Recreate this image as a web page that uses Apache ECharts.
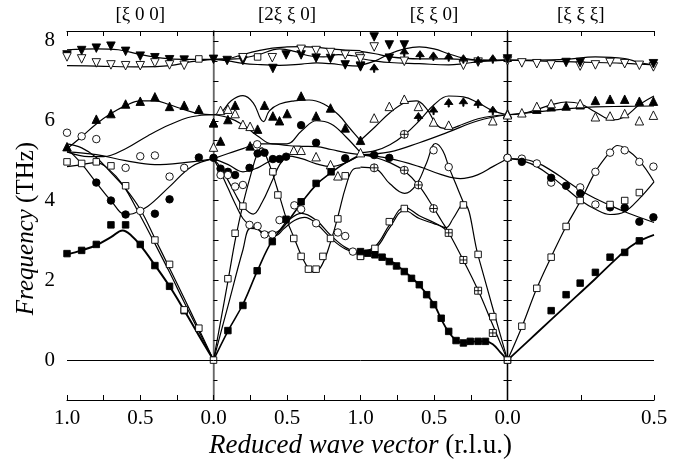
<!DOCTYPE html>
<html>
<head>
<meta charset="utf-8">
<script src="https://cdn.jsdelivr.net/npm/echarts@6/dist/echarts.min.js"></script>
<style>html,body{margin:0;padding:0;background:#fff}#c{width:682px;height:463px}</style>
</head>
<body>
<div id="c"></div>
<script>
// ---------- panel titles & tick text ----------
const panelTitles = ['[\u03BE 0 0]', '[2\u03BE \u03BE 0]', '[\u03BE \u03BE 0]', '[\u03BE \u03BE \u03BE]'];
const yTickLabels = [0, 2, 4, 6, 8];

// ---------- Panel 1 [xi 0 0]  (x = xi, 1 -> 0) ----------
const p1Curves = [
  [[1,7.78],[0.8,7.8],[0.65,7.78],[0.5,7.66],[0.35,7.57],[0.2,7.54],[0,7.54]],
  [[1,7.38],[0.8,7.37],[0.5,7.35],[0.3,7.38],[0.15,7.48],[0,7.54]],
  [[1,5.3],[0.9,5.6],[0.8,5.92],[0.7,6.18],[0.6,6.38],[0.5,6.5],[0.4,6.5],[0.3,6.4],[0.2,6.28],[0.1,6.18],[0,6.15]],
  [[1,5.22],[0.85,5.1],[0.75,5.1],[0.6,5.3],[0.45,5.62],[0.3,5.9],[0.15,6.1],[0,6.15]],
  [[1,5.22],[0.8,5.15],[0.6,5.0],[0.4,4.9],[0.2,4.95],[0,5.05]],
  [[1,5.3],[0.9,4.92],[0.8,4.45],[0.7,4.0],[0.6,3.65],[0.55,3.67],[0.45,3.85],[0.3,4.35],[0.15,4.85],[0,5.05]],
  [[1,5.42],[0.9,5.32],[0.8,5.08],[0.7,4.7],[0.6,4.3],[0.5,3.78],[0.4,3.05],[0.3,2.3],[0.2,1.55],[0.1,0.78],[0,0]],
  [[1,4.85],[0.9,4.9],[0.8,4.95],[0.72,4.8],[0.62,4.4],[0.5,3.62],[0.4,2.92],[0.3,2.2],[0.2,1.45],[0.1,0.72],[0,0]]
];
const p1Thick = [[1,2.65],[0.9,2.75],[0.8,2.88],[0.7,3.08],[0.62,3.25],[0.56,3.12],[0.5,2.88],[0.4,2.38],[0.3,1.85],[0.2,1.25],[0.1,0.62],[0,0]];
const p1FilledSq = [[1,2.67],[0.9,2.75],[0.8,2.9],[0.7,3.39],[0.6,3.39],[0.5,2.9],[0.4,2.37],[0.3,1.85],[0.2,1.24]];
const p1OpenSq = [[1,4.97],[0.9,4.93],[0.8,4.97],[0.7,4.87],[0.6,4.37],[0.4,3.01],[0.3,2.4],[0.2,1.26],[0.1,0.8],[0,0],[0.1,7.55]];
const p1OpenCirc = [[1,5.7],[0.9,5.61],[0.8,5.54],[0.6,4.82],[0.5,5.11],[0.4,5.13],[0.3,4.6],[0.2,4.82],[0.5,3.74]];
const p1FilledCirc = [[0.8,4.45],[0.7,4.0],[0.6,3.65],[0.4,3.67],[0.3,4.03],[0.1,5.08],[0,5.07]];
const p1FilledUp = [[1,5.35],[0.8,6.04],[0.7,6.18],[0.6,6.42],[0.5,6.49],[0.4,6.6],[0.3,6.36],[0.2,6.39],[0.1,6.29],[0,5.95]];
const p1FilledDown = [[1,7.65],[0.9,7.76],[0.8,7.82],[0.7,7.87],[0.6,7.74],[0.5,7.62],[0.4,7.58],[0.3,7.53],[0.2,7.52],[0,7.54]];
const p1OpenDown = [[1,7.6],[0.9,7.55],[0.8,7.45],[0.7,7.4],[0.6,7.38],[0.5,7.38],[0.4,7.45],[0.3,7.4],[0.2,7.39]];

// ---------- Panel 2 [2xi xi 0]  (x = xi, 0 -> 1) ----------
const p2Curves = [
  [[0,7.54],[0.1,7.56],[0.2,7.66],[0.3,7.75],[0.4,7.82],[0.5,7.85],[0.6,7.86],[0.7,7.84],[0.8,7.8],[0.9,7.77],[1,7.76]],
  [[0,7.54],[0.15,7.55],[0.3,7.65],[0.45,7.8],[0.55,7.74],[0.65,7.63],[0.75,7.6],[0.85,7.66],[0.95,7.63],[1,7.6]],
  [[0,7.54],[0.1,7.5],[0.2,7.44],[0.3,7.41],[0.45,7.39],[0.6,7.42],[0.7,7.45],[0.8,7.43],[0.9,7.39],[1,7.37]],
  [[0,6.15],[0.05,6.2],[0.12,6.5],[0.2,6.63],[0.27,6.45],[0.32,6.05],[0.34,5.98],[0.38,6.25],[0.45,6.42],[0.55,6.5],[0.65,6.52],[0.75,6.42],[0.85,6.15],[0.93,5.8],[1,5.5]],
  [[0,6.15],[0.1,6.08],[0.2,5.9],[0.3,5.62],[0.4,5.42],[0.5,5.42],[0.6,5.75],[0.7,6.0],[0.8,5.92],[0.9,5.6],[1,5.2]],
  [[0,5.05],[0.1,5.18],[0.2,5.3],[0.3,5.42],[0.4,5.42],[0.5,5.38],[0.6,5.36],[0.7,5.35],[0.8,5.28],[0.9,5.2],[1,5.15]],
  [[0,5.05],[0.1,4.9],[0.2,4.72],[0.3,4.82],[0.4,5.02],[0.5,5.12],[0.6,5.05],[0.7,4.92],[0.8,4.85],[0.9,4.95],[1,5.15]],
  [[0,5.05],[0.05,4.82],[0.1,4.5],[0.15,4.15],[0.2,3.85],[0.27,3.66],[0.33,3.95],[0.4,4.5],[0.45,4.9],[0.5,5.1]],
  [[0,5.05],[0.05,4.7],[0.1,4.3],[0.15,3.9],[0.2,3.55],[0.25,3.38],[0.3,3.28],[0.35,3.2],[0.42,3.2],[0.5,3.48],[0.6,3.68],[0.7,3.5],[0.8,3.12],[0.9,2.82],[1,2.68]],
  [[0,0],[0.1,1.38],[0.2,2.76],[0.25,3.3],[0.3,3.28],[0.35,3.12],[0.42,3.12],[0.48,3.3],[0.55,3.5],[0.62,3.58],[0.7,3.42],[0.8,3.05],[0.9,2.78],[1,2.68]],
  [[0,0],[0.05,1.0],[0.1,2.02],[0.15,3.05],[0.2,3.9],[0.25,4.6],[0.3,5.2],[0.33,5.32],[0.36,5.1],[0.4,4.7],[0.45,4.1],[0.5,3.5],[0.55,3.05],[0.6,2.6],[0.65,2.28],[0.69,2.2],[0.74,2.4],[0.8,3.0],[0.85,3.65],[0.9,4.35],[0.95,4.78],[1,4.82]]
];
const p2Thick = [[0,0],[0.1,0.74],[0.2,1.4],[0.3,2.25],[0.4,3.0],[0.5,3.45],[0.6,3.95],[0.7,4.4],[0.8,4.7],[0.9,4.95],[1,5.15]];
const p2FilledUp = [[0,5.95],[0.048,5.49],[0.098,6.03],[0.147,6.39],[0.249,5.37],[0.3,5.79],[0.347,6.39],[0.404,6.12],[0.449,6.0],[0.501,6.18],[0.596,6.62],[0.698,6.12],[0.796,6.32],[0.896,5.82],[1,5.51]];
const p2OpenUp = [[0,5.34],[0.048,6.26],[0.098,6.29],[0.147,6.18],[0.2,5.91],[0.249,5.86],[0.546,5.26],[0.596,5.26],[0.698,5.1],[0.796,4.9],[0.846,4.62]];
const p2FilledCirc = [[0.048,4.8],[0.098,4.72],[0.147,4.64],[0.245,4.82],[0.3,5.18],[0.347,5.2],[0.404,5.04],[0.449,5.04],[0.494,5.1],[0.596,5.89],[0.698,5.45],[0.896,5.06]];
const p2OpenCirc = [[0.048,4.64],[0.098,4.64],[0.147,4.35],[0.2,4.39],[0.297,5.41],[0.55,3.88],[0.596,3.78],[0.449,3.51],[0.245,3.39],[0.3,3.36],[0.347,3.15],[0.4,3.15],[0.698,3.43],[0.846,3.2],[0.896,3.11],[0.948,2.72],[1,2.68]];
const p2OpenSq = [[0.404,4.72],[0.438,4.14],[0.846,3.54],[0.896,4.62],[0.098,2.04],[0.147,3.18],[0.2,3.86],[0.546,3.05],[0.596,2.6],[0.646,2.28],[0.698,2.28],[0.744,2.6],[0.796,3.05],[1,2.61],[0.3,7.6]];
const p2FilledSq = [[0.098,0.74],[0.2,1.37],[0.297,2.24],[0.4,2.97],[0.494,3.53],[0.596,3.97],[0.698,4.43],[0.8,4.72]];
const p2FilledDown = [[0.093,7.51],[0.2,7.51],[0.404,7.31],[0.494,7.65],[0.596,7.65],[0.698,7.57],[0.796,7.56],[0.896,7.4],[1,7.37]];
const p2OpenDown = [[0.2,7.58],[0.4,7.58],[0.596,7.79],[0.698,7.76],[0.796,7.71],[0.896,7.65],[0.993,7.6]];

// ---------- Panel 3 [xi xi 0]  (x = xi, 1 -> 0) ----------
const p3Curves = [
  [[1,7.39],[0.9,7.5],[0.8,7.68],[0.7,7.8],[0.6,7.85],[0.5,7.8],[0.4,7.68],[0.3,7.57],[0.2,7.52],[0.1,7.51],[0,7.52]],
  [[1,7.74],[0.9,7.68],[0.8,7.6],[0.6,7.55],[0.4,7.55],[0.2,7.52],[0,7.52]],
  [[1,7.56],[0.9,7.5],[0.8,7.46],[0.6,7.43],[0.4,7.4],[0.3,7.43],[0.2,7.48],[0.1,7.5],[0,7.52]],
  [[1,5.51],[0.9,5.85],[0.8,6.2],[0.7,6.45],[0.62,6.5],[0.55,6.3],[0.5,6.0],[0.45,5.82],[0.4,5.8],[0.3,5.92],[0.2,6.05],[0.1,6.12],[0,6.15]],
  [[1,5.2],[0.9,5.25],[0.8,5.4],[0.7,5.65],[0.6,6.0],[0.5,6.4],[0.4,6.62],[0.3,6.6],[0.2,6.45],[0.1,6.25],[0,6.15]],
  [[1,5.15],[0.8,5.22],[0.6,5.45],[0.4,5.72],[0.2,6.0],[0,6.15]],
  [[1,5.15],[0.8,5.05],[0.6,4.85],[0.45,4.65],[0.32,4.55],[0.2,4.65],[0.1,4.85],[0,5.05]],
  [[1,4.84],[0.9,4.8],[0.8,4.42],[0.7,4.18],[0.62,4.4],[0.55,4.95],[0.49,5.43],[0.44,5.25],[0.4,4.85],[0.35,4.4],[0.3,3.95]],
  [[1,5.15],[0.9,5.08],[0.8,4.95],[0.7,4.74],[0.6,4.36],[0.5,3.8],[0.45,3.5],[0.4,3.2],[0.3,2.5],[0.2,1.75],[0.1,0.88],[0,0]],
  [[1,2.72],[0.9,2.85],[0.8,3.4],[0.7,3.83],[0.6,3.62],[0.5,3.45],[0.42,3.32],[0.37,3.55],[0.3,3.93],[0.2,2.62],[0.1,1.3],[0,0]],
  [[1,2.72],[0.9,2.8],[0.8,3.33],[0.7,3.75],[0.6,3.55],[0.5,3.42],[0.45,3.35],[0.4,3.2]]
];
const p3Thick = [[1,2.72],[0.9,2.66],[0.8,2.5],[0.7,2.22],[0.6,1.88],[0.5,1.4],[0.45,1.02],[0.4,0.7],[0.35,0.5],[0.3,0.44],[0.25,0.46],[0.2,0.47],[0.15,0.47],[0.1,0.4],[0.05,0.2],[0,0]];
const p3FilledDown = [[0.907,8.1],[0.804,7.9],[0.702,7.9],[1,7.35],[0.804,7.57]];
const p3OpenDown = [[0.907,7.85],[1,7.55],[0.702,7.49],[0.3,7.39],[0.2,7.47],[0,7.5]];
const p3Club = [[0.907,7.32],[0.702,7.72],[0.595,7.65],[0.504,7.62],[0.4,7.6],[0.3,7.55],[0.2,7.51],[0.1,7.55],[0.606,6.1],[0.503,6.26],[0.4,6.45],[0.3,6.47],[0.2,6.43],[0.1,6.26]];
const p3CrossCirc = [[0.702,5.66],[0.907,4.82],[0.702,4.76],[0.606,4.39],[0.503,3.8]];
const p3OpenUp = [[0.907,6.07],[0.804,6.36],[0.702,6.54],[0.606,6.36],[0.503,5.97],[0.4,5.89],[0.1,6.0],[0,6.18],[1,5.2]];
const p3OpenCirc = [[0.503,5.26],[0.4,4.84],[0,5.07]];
const p3FilledCirc = [[0.907,5.14],[0.804,5.07]];
const p3OpenSq = [[0.702,3.8],[0.3,3.89],[0.902,2.8],[0.804,3.47],[0.2,2.65],[0.1,1.09],[1,2.6],[0,0]];
const p3CrossSq = [[0.4,3.19],[0.3,2.51],[0.2,1.74],[0.1,0.68]];
const p3FilledSq = [[1,2.72],[0.951,2.68],[0.902,2.64],[0.853,2.58],[0.804,2.47],[0.755,2.36],[0.702,2.22],[0.653,2.05],[0.6,1.89],[0.55,1.64],[0.503,1.39],[0.451,1.05],[0.4,0.72],[0.35,0.49],[0.3,0.43],[0.253,0.47],[0.2,0.47],[0.15,0.47]];

// ---------- Panel 4 [xi xi xi]  (x = xi, 0 -> 0.5) ----------
const p4Curves = [
  [[0,7.52],[0.1,7.52],[0.2,7.54],[0.3,7.6],[0.4,7.56],[0.45,7.46],[0.5,7.4]],
  [[0,7.52],[0.1,7.5],[0.2,7.48],[0.3,7.46],[0.4,7.44],[0.5,7.4]],
  [[0,6.15],[0.05,6.18],[0.1,6.28],[0.15,6.4],[0.2,6.47],[0.25,6.42],[0.3,6.22],[0.36,6.02],[0.4,6.1],[0.45,6.4],[0.5,6.62]],
  [[0,6.15],[0.1,6.22],[0.2,6.3],[0.3,6.35],[0.4,6.36],[0.5,6.37]],
  [[0,5.05],[0.05,5.04],[0.1,4.95],[0.15,4.75],[0.2,4.5],[0.25,4.25],[0.3,4.05],[0.35,3.88],[0.4,3.72],[0.45,3.58],[0.5,3.45]],
  [[0,5.05],[0.05,5.0],[0.1,4.85],[0.15,4.6],[0.2,4.3],[0.25,4.0],[0.3,3.78],[0.35,3.65],[0.4,3.72],[0.45,4.05],[0.5,4.47]],
  [[0,0],[0.05,0.85],[0.1,1.8],[0.15,2.6],[0.2,3.35],[0.25,4.0],[0.3,4.72],[0.35,5.22],[0.375,5.38],[0.4,5.32],[0.45,5.0],[0.5,4.47]]
];
const p4Thick = [[0,0],[0.1,0.68],[0.2,1.36],[0.3,2.04],[0.38,2.6],[0.42,2.85],[0.46,3.02],[0.5,3.14]];
const p4OpenDown = [[0.049,7.45],[0.1,7.43],[0.149,7.4],[0.248,7.37],[0.3,7.4],[0.35,7.46],[0.4,7.43],[0.45,7.39],[0.498,7.35]];
const p4FilledDown = [[0,7.55],[0.2,7.46],[0.248,7.46],[0.498,7.43]];
const p4FilledUp = [[0.1,6.29],[0.149,6.35],[0.2,6.37],[0.248,6.4],[0.3,6.51],[0.35,6.54],[0.4,6.54],[0.45,6.49],[0.498,6.49]];
const p4OpenUp = [[0,6.15],[0.049,6.2],[0.1,6.36],[0.149,6.43],[0.248,6.43],[0.3,6.1],[0.35,6.12],[0.4,6.18],[0.45,6.0],[0.498,6.14]];
const p4OpenCirc = [[0,5.07],[0.049,5.05],[0.1,4.93],[0.149,4.45],[0.248,4.33],[0.3,3.9],[0.3,4.72],[0.35,5.2],[0.4,5.26],[0.45,4.97],[0.498,4.85]];
const p4FilledCirc = [[0.049,4.97],[0.149,4.57],[0.2,4.37],[0.248,4.18],[0.35,3.83],[0.4,3.82],[0.45,3.47],[0.498,3.58]];
const p4OpenSq = [[0,0],[0.049,0.85],[0.1,1.8],[0.149,2.58],[0.2,3.35],[0.248,4.0],[0.35,3.9],[0.4,4.0],[0.45,4.2]];
const p4FilledSq = [[0.149,1.24],[0.2,1.64],[0.248,1.93],[0.3,2.2],[0.35,2.58],[0.4,2.7],[0.45,2.99]];

// ---------- chart ----------
const FONT = 'Liberation Serif';
const grids = [
  {left: 67, top: 31, width: 146.5, height: 369},
  {left: 213.5, top: 31, width: 147, height: 369},
  {left: 360.5, top: 31, width: 147, height: 369},
  {left: 507.5, top: 31, width: 146.5, height: 369}
];
const xRanges = [[0,1,true],[0,1,false],[0,1,true],[0,0.5,false]];
const hideLabelAt = [[], [0], [1], [0]];

const xAxes = [];
grids.forEach((g, i) => {
  const [mn, mx, inv] = xRanges[i];
  const common = {
    type: 'value', gridIndex: i, min: mn, max: mx, inverse: inv, interval: 0.25,
    splitLine: {show: false},
    axisLine: {onZero: false, lineStyle: {color: '#000', width: 1.2}},
    axisTick: {inside: true, length: 5, lineStyle: {color: '#000'}}
  };
  xAxes.push(Object.assign({}, common, {
    position: 'bottom',
    axisLabel: {
      fontFamily: FONT, fontSize: 21, color: '#000', margin: 8,
      formatter: v => {
        if (Math.abs(v * 2 - Math.round(v * 2)) > 1e-6) return '';
        if (hideLabelAt[i].some(h => Math.abs(h - v) < 1e-6)) return '';
        return v.toFixed(1);
      }
    }
  }));
  xAxes.push(Object.assign({}, common, {
    position: 'top',
    axisLabel: {show: false},
    name: panelTitles[i], nameLocation: 'middle', nameGap: 6,
    nameTextStyle: {fontFamily: FONT, fontSize: 19, color: '#000'}
  }));
});

const yAxes = grids.map((g, i) => ({
  type: 'value', gridIndex: i, min: -1, max: 8.25, interval: i === 0 ? 1 : 0.5,
  position: 'left',
  splitLine: {show: false},
  axisLine: {lineStyle: {color: i === 1 ? '#808080' : '#000', width: i === 1 ? 1.6 : 1.2}},
  axisTick: {inside: true, length: i === 0 ? 5 : 4, lineStyle: {color: '#000'}},
  axisLabel: i === 0 ? {
    fontFamily: FONT, fontSize: 21, color: '#000', margin: 12,
    formatter: v => yTickLabels.indexOf(v) >= 0 ? String(v) : ''
  } : {show: false},
  name: i === 0 ? '{i|Frequency} (THz)' : '',
  nameLocation: 'middle', nameGap: 28,
  nameTextStyle: {fontFamily: FONT, fontSize: 25, color: '#000', padding: [0, 26, 0, 0],
    rich: {i: {fontFamily: FONT, fontSize: 25, fontStyle: 'italic', color: '#000'}}}
}));
yAxes.push({
  type: 'value', gridIndex: 3, min: -1, max: 8.25, interval: 0.5, position: 'right',
  splitLine: {show: false},
  axisLine: {lineStyle: {color: '#000', width: 1.2}},
  axisTick: {inside: true, length: 4, lineStyle: {color: '#000'}},
  axisLabel: {show: false}
});

const series = [];
function curve(data, gi, width, withZero) {
  const s = {
    type: 'line', xAxisIndex: 2 * gi, yAxisIndex: gi, data: data,
    smooth: 0.4, showSymbol: false, silent: true, z: 2,
    lineStyle: {color: '#000', width: width}
  };
  if (withZero) {
    s.markLine = {silent: true, symbol: 'none', label: {show: false},
      lineStyle: {color: '#000', width: 1.2, type: 'solid'}, data: [{yAxis: 0}]};
  }
  series.push(s);
}
const symStyles = {
  fsq: {symbol: 'rect', size: 6.5, fill: '#000'},
  osq: {symbol: 'rect', size: 6.5, fill: '#fff'},
  fci: {symbol: 'circle', size: 7.5, fill: '#000'},
  oci: {symbol: 'circle', size: 7.5, fill: '#fff'},
  fup: {symbol: 'triangle', size: 8.5, fill: '#000'},
  oup: {symbol: 'triangle', size: 8.5, fill: '#fff'},
  fdn: {symbol: 'triangle', size: 8.5, fill: '#000', rotate: 180},
  odn: {symbol: 'triangle', size: 8.5, fill: '#fff', rotate: 180},
  club: {symbol: 'path://M5,0 L10,7 L0,7 Z M4.3,7 H5.7 V10 H4.3 Z', size: 8.5, fill: '#000'},
  xci: {symbol: 'path://M10,5 A5,5 0 1,1 0,5 A5,5 0 1,1 10,5 Z M5,0 V10 M0,5 H10', size: 8, fill: '#fff'},
  xsq: {symbol: 'path://M0,0 H10 V10 H0 Z M5,0 V10 M0,5 H10', size: 7, fill: '#fff'}
};
function marks(data, gi, kind) {
  const st = symStyles[kind];
  series.push({
    type: 'scatter', xAxisIndex: 2 * gi, yAxisIndex: gi, data: data,
    symbol: st.symbol, symbolSize: st.size, symbolRotate: st.rotate || 0,
    clip: false, silent: true, z: 3,
    itemStyle: {color: st.fill, borderColor: '#000', borderWidth: 0.9, opacity: 1}
  });
}

// panel 1
curve(p1Thick, 0, 2, true);
p1Curves.forEach(c => curve(c, 0, 1.2, false));
marks(p1FilledSq, 0, 'fsq'); marks(p1OpenSq, 0, 'osq');
marks(p1OpenCirc, 0, 'oci'); marks(p1FilledCirc, 0, 'fci');
marks(p1FilledUp, 0, 'fup'); marks(p1FilledDown, 0, 'fdn'); marks(p1OpenDown, 0, 'odn');
// panel 2
curve(p2Thick, 1, 1.6, true);
p2Curves.forEach(c => curve(c, 1, 1.2, false));
marks(p2FilledUp, 1, 'fup'); marks(p2OpenUp, 1, 'oup');
marks(p2FilledCirc, 1, 'fci'); marks(p2OpenCirc, 1, 'oci');
marks(p2OpenSq, 1, 'osq'); marks(p2FilledSq, 1, 'fsq');
marks(p2FilledDown, 1, 'fdn'); marks(p2OpenDown, 1, 'odn');
// panel 3
curve(p3Thick, 2, 1.8, true);
p3Curves.forEach(c => curve(c, 2, 1.2, false));
marks(p3FilledDown, 2, 'fdn'); marks(p3OpenDown, 2, 'odn');
marks(p3Club, 2, 'club'); marks(p3CrossCirc, 2, 'xci');
marks(p3OpenUp, 2, 'oup'); marks(p3OpenCirc, 2, 'oci'); marks(p3FilledCirc, 2, 'fci');
marks(p3OpenSq, 2, 'osq'); marks(p3CrossSq, 2, 'xsq'); marks(p3FilledSq, 2, 'fsq');
// panel 4
curve(p4Thick, 3, 1.8, true);
p4Curves.forEach(c => curve(c, 3, 1.2, false));
marks(p4OpenDown, 3, 'odn'); marks(p4FilledDown, 3, 'fdn');
marks(p4FilledUp, 3, 'fup'); marks(p4OpenUp, 3, 'oup');
marks(p4OpenCirc, 3, 'oci'); marks(p4FilledCirc, 3, 'fci');
marks(p4OpenSq, 3, 'osq'); marks(p4FilledSq, 3, 'fsq');

const chart = echarts.init(document.getElementById('c'), null, {renderer: 'canvas'});
chart.setOption({
  animation: false,
  backgroundColor: '#fff',
  grid: grids,
  xAxis: xAxes,
  yAxis: yAxes,
  series: series,
  graphic: [{
    type: 'text', x: 360.5, y: 446,
    style: {
      text: '{i|Reduced wave vector} (r.l.u.)',
      fontFamily: FONT, fontSize: 27, fill: '#000',
      align: 'center', verticalAlign: 'middle',
      rich: {i: {fontFamily: FONT, fontSize: 27, fontStyle: 'italic', fill: '#000'}}
    }
  }]
});
</script>
</body>
</html>
